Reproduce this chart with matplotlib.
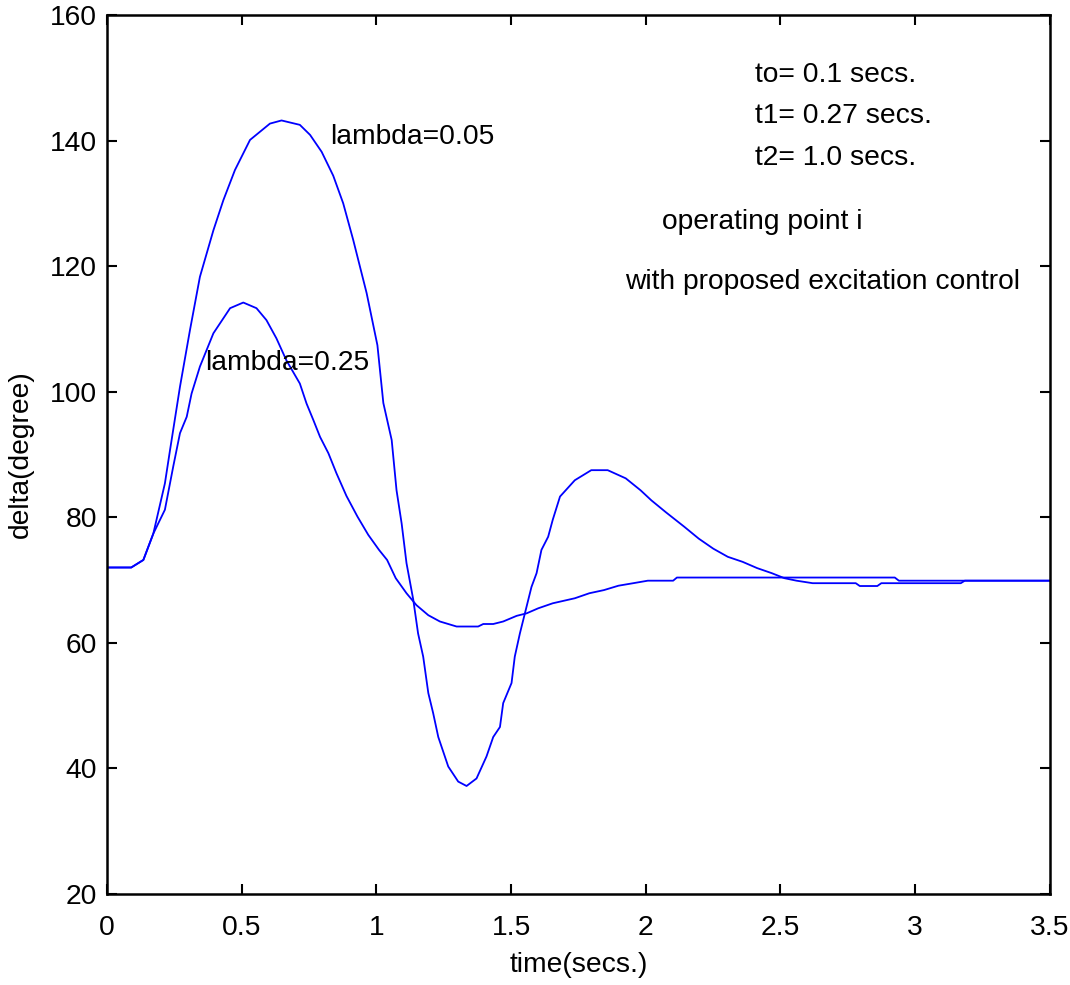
import numpy as np
import matplotlib.pyplot as plt

plt.rcParams['font.family'] = ['Liberation Sans', 'DejaVu Sans']

# lambda = 0.05 (large swing)
t_a = [0, 0.09, 0.135, 0.172, 0.215, 0.234, 0.271, 0.308, 0.345, 0.395, 0.432,
       0.475, 0.531, 0.605, 0.648, 0.716, 0.754, 0.797, 0.84, 0.877, 0.914,
       0.964, 1.004, 1.026, 1.057, 1.075, 1.094, 1.112, 1.137, 1.155, 1.174,
       1.193, 1.211, 1.23, 1.267, 1.304, 1.335, 1.372, 1.409, 1.434, 1.459,
       1.471, 1.502, 1.514, 1.533, 1.558, 1.576, 1.595, 1.613, 1.638, 1.655,
       1.682, 1.737, 1.798, 1.859, 1.926, 1.981, 2.021, 2.075, 2.143, 2.197,
       2.251, 2.305, 2.36, 2.414, 2.468, 2.515, 2.56, 2.62, 2.78, 2.795, 2.86,
       2.875, 3.17, 3.185, 3.5]
d_a = [72.0, 72.0, 73.2, 77.4, 85.4, 90.7, 100.8, 109.8, 118.3, 125.7, 130.5,
       135.3, 140.1, 142.7, 143.2, 142.5, 140.9, 138.2, 134.4, 130.0, 124.2,
       115.7, 107.4, 98.2, 92.3, 84.3, 79.0, 72.7, 66.9, 61.5, 57.8,
       52.0, 48.8, 45.0, 40.3, 37.9, 37.2, 38.4, 41.9, 45.0, 46.6,
       50.4, 53.6, 57.8, 61.5, 65.8, 68.9, 71.1, 74.8, 76.9, 79.6,
       83.3, 85.9, 87.5, 87.5, 86.2, 84.3, 82.7, 80.8, 78.5, 76.6,
       75.0, 73.7, 72.9, 71.9, 71.1, 70.3, 69.9, 69.5, 69.5, 69.05, 69.05,
       69.5, 69.5, 69.9, 69.9]

# lambda = 0.25
t_b = [0, 0.09, 0.135, 0.172, 0.215, 0.246, 0.271, 0.296, 0.314, 0.345, 0.395,
       0.457, 0.506, 0.555, 0.592, 0.629, 0.666, 0.716, 0.741, 0.766, 0.791,
       0.822, 0.852, 0.889, 0.93, 0.97, 1.01, 1.04, 1.072, 1.112, 1.149,
       1.193, 1.236, 1.298, 1.378, 1.397, 1.434, 1.471, 1.521, 1.558, 1.601,
       1.655, 1.737, 1.791, 1.845, 1.899, 1.954, 2.008, 2.102, 2.116, 2.925,
       2.94, 3.5]
d_b = [72.0, 72.0, 73.2, 77.4, 81.2, 88.1, 93.4, 96.0, 99.7, 104.0, 109.3,
       113.3, 114.2, 113.3, 111.4, 108.5, 105.0, 101.3, 98.1, 95.5, 92.8,
       90.2, 87.0, 83.4, 80.1, 77.2, 74.8, 73.2, 70.3, 67.9, 66.0,
       64.4, 63.4, 62.6, 62.6, 63.0, 63.0, 63.4, 64.3, 64.7, 65.5,
       66.3, 67.1, 67.9, 68.4, 69.1, 69.5, 69.9, 69.9, 70.4, 70.4,
       69.9, 69.9]

fig = plt.figure(figsize=(10.7, 9.85), dpi=100)
ax = fig.add_axes([0.1, 0.0924, 0.881, 0.8924])

ax.plot(t_a, d_a, color='#0000ff', lw=1.3)
ax.plot(t_b, d_b, color='#0000ff', lw=1.3)

fs = 20.3
ax.text(0.828, 140.6, 'lambda=0.05', fontsize=fs, va='center')
ax.text(0.364, 104.6, 'lambda=0.25', fontsize=fs, va='center')
ax.text(2.405, 150.4, 'to= 0.1 secs.', fontsize=fs, va='center')
ax.text(2.405, 143.9, 't1= 0.27 secs.', fontsize=fs, va='center')
ax.text(2.405, 137.2, 't2= 1.0 secs.', fontsize=fs, va='center')
ax.text(2.06, 127.0, 'operating point i', fontsize=fs, va='center')
ax.text(1.923, 117.5, 'with proposed excitation control', fontsize=fs, va='center')

ax.set_xlim(0, 3.5)
ax.set_ylim(20, 160)
ax.set_xticks(np.arange(0, 3.51, 0.5))
ax.set_xticklabels(['0', '0.5', '1', '1.5', '2', '2.5', '3', '3.5'])
ax.set_yticks(np.arange(20, 161, 20))
ax.tick_params(direction='in', top=True, right=True, length=7, width=1.5,
               labelsize=fs)
ax.tick_params(axis='y', pad=7)
ax.tick_params(axis='x', pad=15)
for s in ax.spines.values():
    s.set_linewidth(1.8)

ax.set_xlabel('time(secs.)', fontsize=fs, labelpad=8)
ax.set_ylabel('delta(degree)', fontsize=fs, labelpad=12)

fig.savefig('out.png', dpi=100)
